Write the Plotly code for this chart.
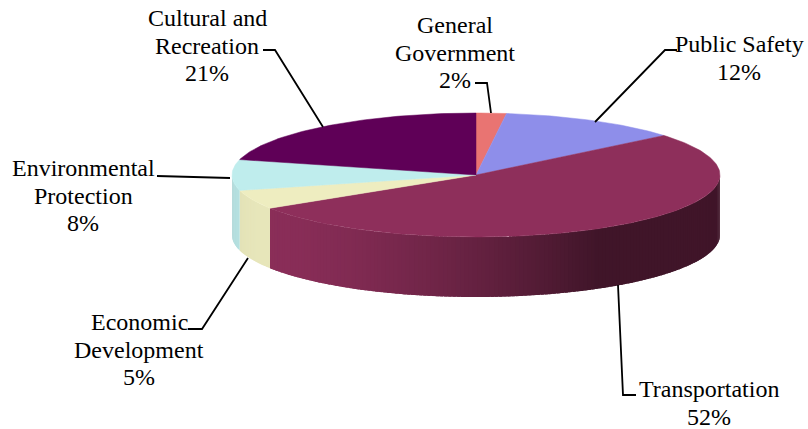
import math
import plotly.graph_objects as go

# Spending shares, listed clockwise from 12 o'clock
categories = ["General\nGovernment", "Public Safety", "Transportation",
              "Economic\nDevelopment", "Environmental\nProtection", "Cultural and\nRecreation"]
shares = [2, 12, 52, 5, 8, 21]
colors = ["#E97472", "#8E8EEA", "#8E2F5B", "#EEEDC0", "#BFEDED", "#5F0057"]

W, H = 808, 429
# Oblique pie geometry (pixel space, y grows downward)
CX, CY, RX, RY, DEPTH = 476, 175, 244, 62, 60

# Label placement: center x, first-line y; and leader line paths
label_pos = [(455, 25), (739, 44), (709, 389), (139, 322), (83, 168), (207, 18)]
line_gap = 27.5
leaders = [
    [(475, 83), (487, 83), (491, 113)],
    [(677, 50), (665, 50), (595, 122)],
    [(618, 285), (623, 395), (636, 395)],
    [(188, 329), (202, 329), (248, 258)],
    [(157, 176), (230, 178)],
    [(263, 50), (275, 50), (323, 127)],
]
LABEL_FONT = "Liberation Serif"


def top_pt(theta_deg, dy=0.0):
    t = math.radians(theta_deg)
    return CX + RX * math.sin(t), CY - RY * math.cos(t) + dy


def shade(hex_color, f):
    h = hex_color.lstrip("#")
    r, g, b = (int(h[i:i + 2], 16) for i in (0, 2, 4))
    return "rgb({},{},{})".format(*(max(0, min(255, round(c * f))) for c in (r, g, b)))


def side_factor(theta_deg):
    c = math.cos(math.radians(theta_deg - 240))
    return 0.45 + 0.52 * max(0.0, c)


total = sum(shares)
bounds = []
acc = 0.0
for v in shares:
    start = acc / total * 360
    acc += v
    bounds.append((start, acc / total * 360))

fig = go.Figure()

# Side walls (front half only), drawn as shaded strips; each strip overlaps
# the next one slightly so no seams show between them
for (a0, a1), col in zip(bounds, colors):
    lo, hi = max(a0, 90.0), min(a1, 270.0)
    if hi <= lo:
        continue
    n = max(1, int(math.ceil(hi - lo)))
    for i in range(n):
        t0 = lo + (hi - lo) * i / n
        t1 = lo + (hi - lo) * (i + 1) / n
        t1o = min(hi, t1 + 0.8)
        pts = [top_pt(t0 + (t1o - t0) * k / 4) for k in range(5)]
        pts += [top_pt(t0 + (t1o - t0) * k / 4, DEPTH) for k in range(4, -1, -1)]
        c = shade(col, side_factor((t0 + t1) / 2))
        fig.add_trace(go.Scatter(
            x=[p[0] for p in pts] + [pts[0][0]],
            y=[p[1] for p in pts] + [pts[0][1]],
            mode="lines", fill="toself", fillcolor=c,
            line=dict(width=0), hoverinfo="skip", showlegend=False))

# Top faces
for (a0, a1), col, name, v in zip(bounds, colors, categories, shares):
    n = max(2, int(math.ceil((a1 - a0) / 1.0)))
    xs, ys = [CX], [CY]
    for i in range(n + 1):
        px, py = top_pt(a0 + (a1 - a0) * i / n)
        xs.append(px)
        ys.append(py)
    xs.append(CX)
    ys.append(CY)
    fig.add_trace(go.Scatter(
        x=xs, y=ys, mode="lines", fill="toself", fillcolor=col,
        line=dict(color=col, width=0.5), name=name.replace("\n", " "),
        hovertemplate=f"{name.replace(chr(10), ' ')}: {v}%<extra></extra>",
        showlegend=False))

# Leader lines
for path in leaders:
    fig.add_trace(go.Scatter(
        x=[p[0] for p in path], y=[p[1] for p in path], mode="lines",
        line=dict(color="black", width=1.8), hoverinfo="skip", showlegend=False))

# Labels: category name lines followed by the share
annotations = []
for name, v, (lx, ly) in zip(categories, shares, label_pos):
    lines = name.split("\n") + [f"{v}%"]
    for k, txt in enumerate(lines):
        annotations.append(dict(
            x=lx, y=ly + k * line_gap, xref="x", yref="y", text=txt,
            showarrow=False, xanchor="center", yanchor="middle",
            font=dict(family=LABEL_FONT, size=24, color="#000000")))

fig.update_layout(
    width=W, height=H, margin=dict(l=0, r=0, t=0, b=0),
    paper_bgcolor="white", plot_bgcolor="white",
    font=dict(family=LABEL_FONT),
    xaxis=dict(range=[0, W], visible=False, fixedrange=True),
    yaxis=dict(range=[H, 0], visible=False, fixedrange=True),
    annotations=annotations, showlegend=False)

fig.write_html("out.html")
